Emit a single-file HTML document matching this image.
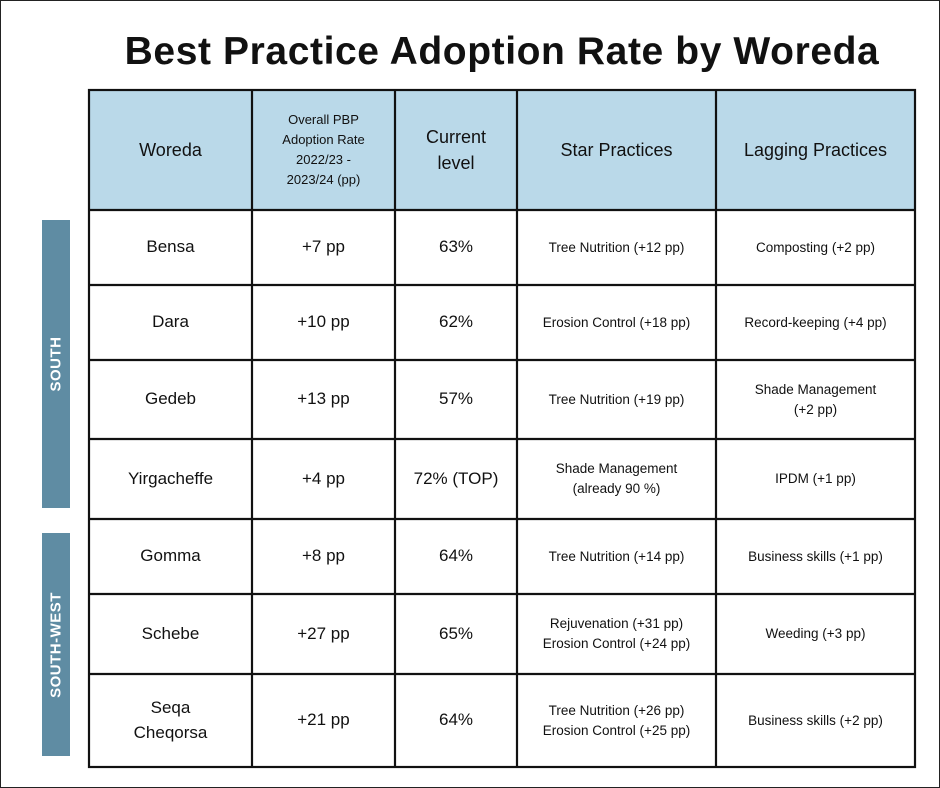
<!DOCTYPE html>
<html><head><style>
*{margin:0;padding:0;box-sizing:border-box}
body{width:940px;height:788px;background:#fff;position:relative;overflow:hidden;font-family:"Liberation Sans",sans-serif;color:#111}
.frame{position:absolute;left:0;top:0;width:940px;height:788px;border:1px solid #222}
h1{position:absolute;left:0;width:1004px;top:30px;text-align:center;font-size:39px;font-weight:bold;letter-spacing:0.6px}
.c{position:absolute;display:flex;align-items:center;justify-content:center;text-align:center}
.side{position:absolute;left:42px;width:28px;background:#5f8ca3;color:#fff;font-weight:bold;font-size:15px}
.side span{position:absolute;left:50%;top:50%;transform:translate(-50%,-50%) rotate(-90deg);white-space:nowrap;letter-spacing:0.5px}
</style></head><body>
<div class="frame"></div>
<h1>Best Practice Adoption Rate by Woreda</h1>
<div class="side" style="top:220px;height:288px"><span>SOUTH</span></div>
<div class="side" style="top:533px;height:223px"><span>SOUTH-WEST</span></div>
<svg style="position:absolute;left:0;top:0" width="940" height="788">
<rect x="89" y="90" width="826" height="120" fill="#bad9e9"/>
<g stroke="#111" stroke-width="2.2" fill="none">
<rect x="89" y="90" width="826" height="677"/>
<line x1="252" y1="90" x2="252" y2="767"/><line x1="395" y1="90" x2="395" y2="767"/>
<line x1="517" y1="90" x2="517" y2="767"/><line x1="716" y1="90" x2="716" y2="767"/>
<line x1="89" y1="210" x2="915" y2="210"/><line x1="89" y1="285" x2="915" y2="285"/>
<line x1="89" y1="360" x2="915" y2="360"/><line x1="89" y1="439" x2="915" y2="439"/>
<line x1="89" y1="519" x2="915" y2="519"/><line x1="89" y1="594" x2="915" y2="594"/>
<line x1="89" y1="674" x2="915" y2="674"/>
</g></svg>
<div id="t"></div>
<script>
var cols=[89,252,395,517,716,915];
var rows=[90,210,285,360,439,519,594,674,767];
var data=[
["Woreda","Overall PBP<br>Adoption Rate<br>2022/23 -<br>2023/24 (pp)","Current<br>level","Star Practices","Lagging Practices"],
["Bensa","+7 pp","63%","Tree Nutrition (+12 pp)","Composting (+2 pp)"],
["Dara","+10 pp","62%","Erosion Control (+18 pp)","Record-keeping (+4 pp)"],
["Gedeb","+13 pp","57%","Tree Nutrition (+19 pp)","Shade Management<br>(+2 pp)"],
["Yirgacheffe","+4 pp","72% (TOP)","Shade Management<br>(already 90 %)","IPDM (+1 pp)"],
["Gomma","+8 pp","64%","Tree Nutrition (+14 pp)","Business skills (+1 pp)"],
["Schebe","+27 pp","65%","Rejuvenation (+31 pp)<br>Erosion Control (+24 pp)","Weeding (+3 pp)"],
["Seqa<br>Cheqorsa","+21 pp","64%","Tree Nutrition (+26 pp)<br>Erosion Control (+25 pp)","Business skills (+2 pp)"]];
var h="";
for(var r=0;r<8;r++)for(var c=0;c<5;c++){
var fs=17,lh=1.45;
if(r==0){fs=(c==1)?13:18;lh=(c==1)?1.55:1.45}
else if(c>=3)fs=13.5;
h+='<div class="c" style="left:'+cols[c]+'px;top:'+rows[r]+'px;width:'+(cols[c+1]-cols[c])+'px;height:'+(rows[r+1]-rows[r])+'px;font-size:'+fs+'px;line-height:'+lh+'">'+data[r][c]+'</div>';}
document.getElementById('t').innerHTML=h;
</script>
</body></html>
